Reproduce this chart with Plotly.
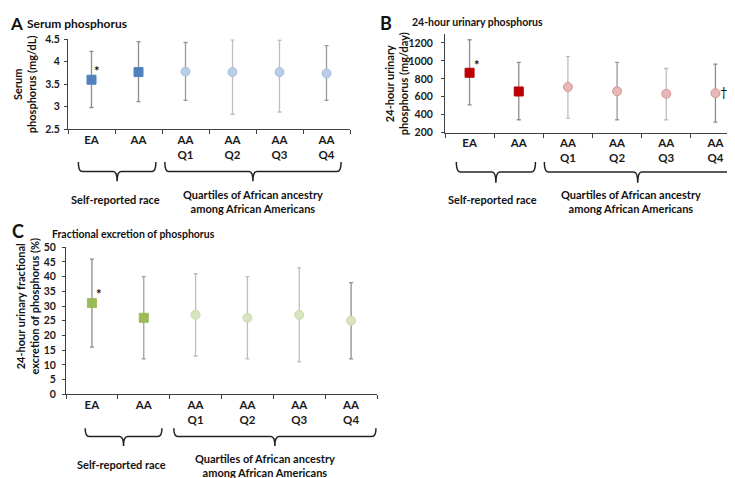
import plotly.graph_objects as go

W, H = 735, 478

# ---------------- data ----------------
categories = ["EA", "AA", "AA<br>Q1", "AA<br>Q2", "AA<br>Q3", "AA<br>Q4"]
symbols = ["square", "square", "circle", "circle", "circle", "circle"]

serum_mean = [3.60, 3.77, 3.78, 3.77, 3.77, 3.74]
serum_low = [2.98, 3.11, 3.14, 2.83, 2.88, 3.14]
serum_high = [4.23, 4.45, 4.43, 4.49, 4.48, 4.36]

urine_mean = [868, 659, 709, 662, 633, 640]
urine_low = [510, 344, 362, 344, 344, 318]
urine_high = [1236, 983, 1048, 983, 915, 965]

fe_mean = [31, 26, 27, 26, 27, 25]
fe_low = [16, 12, 13, 12, 11, 12]
fe_high = [46, 40, 41, 40, 43, 38]

serum_yticks = [2.5, 3, 3.5, 4, 4.5]
urine_yticks = [200, 400, 600, 800, 1000, 1200]
fe_yticks = [0, 5, 10, 15, 20, 25, 30, 35, 40, 45, 50]

group_labels = ["Self-reported race", "Quartiles of African ancestry<br>among African Americans"]

FONT = "Lato"
AXC = "#404040"


def px(x):
    return x / W


def py(y):
    return 1 - y / H


fig = go.Figure()

panels = [
    dict(key="", mean=serum_mean, low=serum_low, high=serum_high,
         sq="#4F81BD", sq_line="#4F81BD", ci="#B9CDE5", ci_line="#A7C0DE",
         err=["#8C8C8C", "#8C8C8C", "#9A9A9A", "#BDBDBD", "#BDBDBD", "#9A9A9A"],
         xd=(60, 342), yd=(26, 118), yr=[2.5, 4.5], yt=serum_yticks, ystand=2,
         letter="A", lpos=(1, 10), lsize=17, title="Serum phosphorus", tsize=12, tpos=(18, 10),
         ytitle="Serum<br>phosphorus (mg/dL)", ytpos=(16, 72),
         brace_y=(151.7, 161.5, 171.5),
         b1=(-0.28, 1.37), b2=(1.56, 5.31),
         g1=(107, 190), g2=(245, 192.5),
         star=(5, 9), dagger=None),
    dict(key="2", mean=urine_mean, low=urine_low, high=urine_high,
         sq="#C00000", sq_line="#B00000", ci="#E6B9B8", ci_line="#D99694",
         err=["#8C8C8C", "#8C8C8C", "#BDBDBD", "#9A9A9A", "#BDBDBD", "#8C8C8C"],
         xd=(437, 732), yd=(20.5, 121.7), yr=[200, 1300], yt=urine_yticks, ystand=6,
         letter="B", lpos=(371, 9), lsize=18, title="24-hour urinary phosphorus", tsize=10.5, tpos=(403, 8),
         ytitle="24-hour urinary<br>phosphorus (mg/day)", ytpos=(388, 72),
         brace_y=(151.7, 162, 173),
         b1=(-0.27, 1.34), b2=(1.52, 5.32),
         g1=(485, 190.7), g2=(623, 192),
         star=(7, 8), dagger=(5, (9, 1))),
    dict(key="3", mean=fe_mean, low=fe_low, high=fe_high,
         sq="#9BBB59", sq_line="#9BBB59", ci="#D7E4BD", ci_line="#C9DAA9",
         err=["#8C8C8C", "#A0A0A0", "#BDBDBD", "#BDBDBD", "#BDBDBD", "#8C8C8C"],
         xd=(58, 369), yd=(239.3, 390), yr=[0, 50], yt=fe_yticks, ystand=4,
         letter="C", lpos=(3, 223), lsize=18, title="Fractional excretion of phosphorus", tsize=10.5, tpos=(43, 226),
         ytitle="24-hour urinary fractional<br>excretion of phosphorus (%)", ytpos=(19, 300),
         brace_y=(425, 433.5, 443),
         b1=(-0.13, 1.35), b2=(1.58, 5.48),
         g1=(113, 461.7), g2=(257, 463.5),
         star=(7, 9), dagger=None),
]

shapes = []
annotations = []

for p in panels:
    k = p["key"]
    xa = "x" + k
    ya = "y" + k
    n = len(categories)
    for i in range(n):
        is_sq = symbols[i] == "square"
        fig.add_trace(go.Scatter(
            x=[categories[i]], y=[p["mean"][i]],
            xaxis=xa, yaxis=ya, mode="markers",
            marker=dict(symbol=symbols[i], size=9,
                        color=p["sq"] if is_sq else p["ci"],
                        line=dict(color=p["sq_line"] if is_sq else p["ci_line"], width=1)),
            error_y=dict(type="data", symmetric=False,
                         array=[p["high"][i] - p["mean"][i]],
                         arrayminus=[p["mean"][i] - p["low"][i]],
                         color=p["err"][i], thickness=1.3, width=2),
            showlegend=False, hoverinfo="skip",
        ))

    fig.update_layout(**{
        "xaxis" + k: dict(
            domain=[px(p["xd"][0]), px(p["xd"][1])], anchor=ya,
            type="category", categoryorder="array", categoryarray=categories,
            range=[-0.5, n - 0.5], tickson="boundaries", ticks="outside", ticklen=4,
            tickcolor=AXC, showline=True, linecolor=AXC, linewidth=1, showgrid=False,
            zeroline=False, fixedrange=True,
            tickfont=dict(family=FONT, size=11.5, color="#1a1a1a", weight="bold"),
        ),
        "yaxis" + k: dict(
            domain=[py(p["yd"][1]), py(p["yd"][0])], anchor=xa,
            range=p["yr"], tickmode="array", tickvals=p["yt"],
            ticktext=[("%g" % v) for v in p["yt"]],
            ticks="outside", ticklen=3, tickcolor=AXC, showline=True, linecolor=AXC,
            linewidth=1, showgrid=False, zeroline=False, fixedrange=True,
            ticklabelstandoff=p["ystand"],
            tickfont=dict(family=FONT, size=10.5, color="#1a1a1a", weight="bold"),
        ),
    })

    # panel letter and title
    annotations.append(dict(text="<b>%s</b>" % p["letter"], x=px(p["lpos"][0]), y=py(p["lpos"][1]),
                            xref="paper", yref="paper", xanchor="left", yanchor="middle",
                            showarrow=False, borderpad=0,
                            font=dict(family=FONT, size=p["lsize"], color="#111")))
    annotations.append(dict(text="<b>%s</b>" % p["title"], x=px(p["tpos"][0]), y=py(p["tpos"][1]),
                            xref="paper", yref="paper", xanchor="left", yanchor="middle",
                            showarrow=False, borderpad=0,
                            font=dict(family=FONT, size=p["tsize"], color="#111")))
    # y title
    annotations.append(dict(text="<b>%s</b>" % p["ytitle"], x=px(p["ytpos"][0]), y=py(p["ytpos"][1]),
                            xref="paper", yref="paper", xanchor="center", yanchor="middle",
                            textangle=-90, showarrow=False, borderpad=0,
                            font=dict(family=FONT, size=11, color="#111")))
    # asterisk on EA
    annotations.append(dict(text="<b>*</b>", x=categories[0], y=p["mean"][0], xref=xa, yref=ya,
                            xshift=p["star"][0], yshift=p["star"][1], showarrow=False,
                            font=dict(family=FONT, size=13, color="#111")))
    if p["dagger"] is not None:
        di, (dx, dy) = p["dagger"]
        annotations.append(dict(text="†", x=categories[di], y=p["mean"][di], xref=xa, yref=ya,
                                xshift=dx, yshift=dy, showarrow=False,
                                font=dict(family=FONT, size=13, color="#111")))

    # braces
    x0p, x1p = p["xd"]
    cw = (x1p - x0p) / n

    def cx(c):
        return x0p + (c + 0.5) * cw

    ytop, yh, ytip = p["brace_y"]
    for (a, b) in (p["b1"], p["b2"]):
        xa0, xa1 = cx(a), cx(b)
        xm = (xa0 + xa1) / 2
        r = 4
        path = ("M {x0},{yt} Q {x0},{yh} {x0r},{yh} L {xmr0},{yh} Q {xm},{yh} {xm},{ytip} "
                "Q {xm},{yh} {xmr1},{yh} L {x1r},{yh} Q {x1},{yh} {x1},{yt}").format(
            x0=px(xa0), yt=py(ytop), yh=py(yh), x0r=px(xa0 + r), xmr0=px(xm - r), xm=px(xm),
            ytip=py(ytip), xmr1=px(xm + r), x1r=px(xa1 - r), x1=px(xa1))
        shapes.append(dict(type="path", path=path, xref="paper", yref="paper",
                           line=dict(color="#222", width=1.5)))

    # group labels
    annotations.append(dict(text="<b>%s</b>" % group_labels[0], x=px(p["g1"][0]), y=py(p["g1"][1]),
                            xref="paper", yref="paper", xanchor="center", yanchor="middle",
                            showarrow=False, borderpad=0,
                            font=dict(family=FONT, size=11, color="#111")))
    annotations.append(dict(text="<b>%s</b>" % group_labels[1], x=px(p["g2"][0]), y=py(p["g2"][1]),
                            xref="paper", yref="paper", xanchor="center", yanchor="middle",
                            showarrow=False, borderpad=0,
                            font=dict(family=FONT, size=11, color="#111")))

fig.update_layout(
    width=W, height=H, margin=dict(l=0, r=0, t=0, b=0),
    paper_bgcolor="white", plot_bgcolor="white",
    shapes=shapes, annotations=annotations,
    font=dict(family=FONT, color="#111"),
)

fig.write_html("out.html")
